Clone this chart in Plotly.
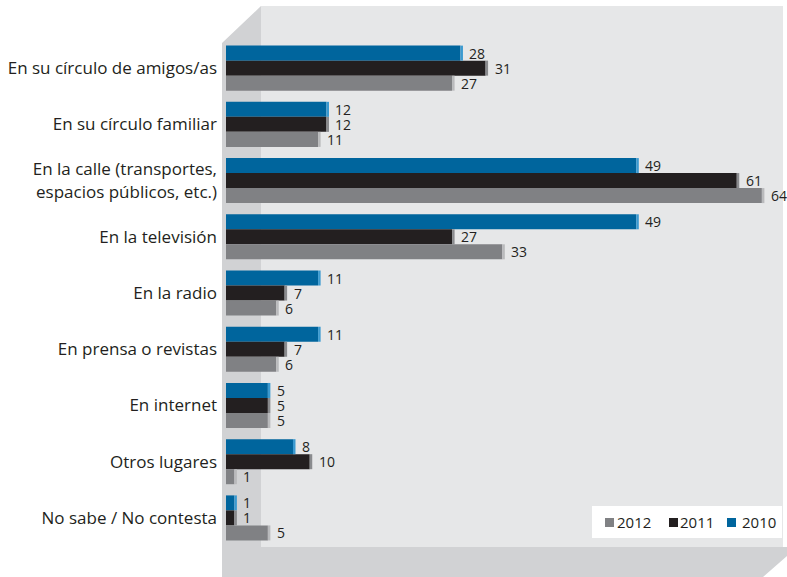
import plotly.graph_objects as go

# Survey categories (top to bottom) and yearly percentages
categories = [
    "En su círculo de amigos/as",
    "En su círculo familiar",
    "En la calle (transportes,<br>espacios públicos, etc.)",
    "En la televisión",
    "En la radio",
    "En prensa o revistas",
    "En internet",
    "Otros lugares",
    "No sabe / No contesta",
]
years = ["2010", "2011", "2012"]
values_2010 = [28, 12, 49, 49, 11, 11, 5, 8, 1]
values_2011 = [31, 12, 61, 27, 7, 7, 5, 10, 1]
values_2012 = [27, 11, 64, 33, 6, 6, 5, 1, 5]

series = [values_2010, values_2011, values_2012]
colors = ["#00659d", "#231f20", "#808184"]
cap_colors = ["#3b9ad0", "#8a8b8e", "#b9babc"]

# figure geometry (pixels)
W, H = 787, 577
ML, MR, MT, MB = 226, 0, 40, 31
PW, PH = W - ML - MR, H - MT - MB

BAR_W = 0.267
offsets = [-0.4, -0.4 + BAR_W, -0.4 + 2 * BAR_W]
X_MAX = 67.0
CAP = 0.3
TEXT_COLOR = "#231f20"


def px(x):
    return (x - ML) / PW


def py(y):
    return (H - MB - y) / PH


fig = go.Figure()
pos = list(range(len(categories)))

for name, vals, col, off in zip(years, series, colors, offsets):
    fig.add_trace(go.Bar(
        name=name,
        y=pos,
        x=vals,
        orientation="h",
        width=BAR_W,
        offset=off,
        marker=dict(color=col, line=dict(width=0)),
        showlegend=False,
        hoverinfo="x+name",
    ))

shapes = []
annotations = []

# back wall
shapes.append(dict(type="rect", xref="paper", yref="paper",
                   x0=px(261), x1=px(783), y0=py(547), y1=py(6),
                   fillcolor="#e6e7e8", line=dict(width=0), layer="below"))
# side wall and floor
pts = [(222, 43), (261, 6), (261, 547), (787, 547), (787, 556), (763, 577), (222, 577)]
path = "M " + " L ".join(f"{px(a):.5f},{py(b):.5f}" for a, b in pts) + " Z"
shapes.append(dict(type="path", xref="paper", yref="paper", path=path,
                   fillcolor="#d1d2d4", line=dict(width=0), layer="below"))

# lighter end caps giving the bars a bevelled look, plus value labels
for vals, ccol, off in zip(series, cap_colors, offsets):
    for i, v in enumerate(vals):
        shapes.append(dict(type="rect", xref="x", yref="y",
                           x0=v, x1=v + CAP, y0=i + off, y1=i + off + BAR_W,
                           fillcolor=ccol, line=dict(width=0), layer="above"))
        annotations.append(dict(
            x=v, y=i + off + BAR_W / 2, xref="x", yref="y",
            text=str(v), showarrow=False,
            xanchor="left", yanchor="middle", xshift=8,
            borderpad=0,
            font=dict(family="Open Sans", size=14, color=TEXT_COLOR),
        ))

# legend box: 2012, 2011, 2010
shapes.append(dict(type="rect", xref="paper", yref="paper",
                   x0=px(592), x1=px(782), y0=py(538), y1=py(506),
                   fillcolor="white", line=dict(width=0), layer="above"))
legend_items = [("2012", colors[2], 605, 616),
                ("2011", colors[1], 669, 679),
                ("2010", colors[0], 727, 741)]
for label, col, sx, tx in legend_items:
    shapes.append(dict(type="rect", xref="paper", yref="paper",
                       x0=px(sx), x1=px(sx + 9), y0=py(527), y1=py(518),
                       fillcolor=col, line=dict(width=0), layer="above"))
    annotations.append(dict(
        x=px(tx), y=py(522), xref="paper", yref="paper",
        text=label, showarrow=False, xanchor="left", yanchor="middle",
        borderpad=0,
        font=dict(family="Open Sans", size=15, color=TEXT_COLOR),
    ))

fig.update_layout(
    width=W, height=H,
    margin=dict(l=ML, r=MR, t=MT, b=MB, pad=0),
    paper_bgcolor="white",
    plot_bgcolor="rgba(0,0,0,0)",
    barmode="overlay",
    shapes=shapes,
    annotations=annotations,
    font=dict(family="Open Sans", color=TEXT_COLOR),
    showlegend=False,
    xaxis=dict(visible=False, range=[0, X_MAX], fixedrange=True),
    yaxis=dict(
        tickvals=pos,
        ticktext=categories,
        range=[len(categories) - 0.5, -0.5],
        showgrid=False, zeroline=False, showline=False,
        ticks="",
        ticklabelstandoff=8,
        tickfont=dict(family="Open Sans", size=17, color=TEXT_COLOR),
    ),
)

fig.write_html("out.html")
